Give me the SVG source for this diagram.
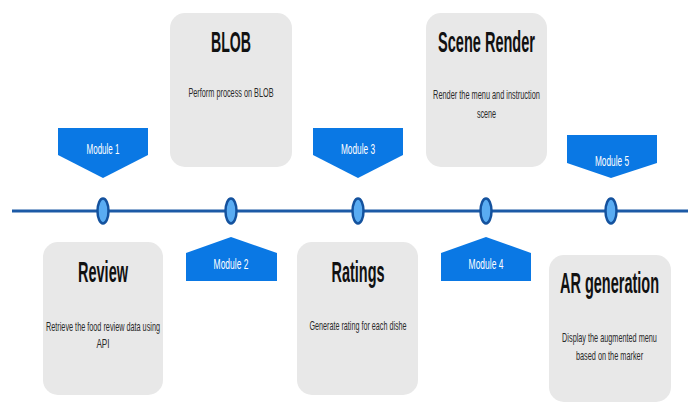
<svg xmlns="http://www.w3.org/2000/svg" width="688" height="403" viewBox="0 0 688 403">
  <style>
    .card { fill: #e8e8e8; }
    .title { font-family: "Liberation Sans", Arial, sans-serif; font-weight: bold; font-size: 29px; fill: #111; text-anchor: middle; }
    .desc { font-family: "Liberation Sans", Arial, sans-serif; font-size: 13px; fill: #2a2a2a; text-anchor: middle; }
    .tag { fill: #0a78e4; }
    .tag-label { font-family: "Liberation Sans", Arial, sans-serif; font-size: 14px; fill: #fff; text-anchor: middle; }
    .axis { stroke: #1c5aa6; stroke-width: 3; fill: none; }
    .dot { fill: #5aacf2; stroke: #14529e; stroke-width: 2.5; }
  </style>
  <rect width="688" height="403" fill="#fff"/>

  <!-- timeline axis and milestone dots -->
  <g id="connectors">
    <line class="axis" x1="12" y1="211" x2="688" y2="211"/>
    <ellipse class="dot" cx="103" cy="211" rx="5.5" ry="12.5"/>
    <ellipse class="dot" cx="231" cy="211" rx="5.5" ry="12.5"/>
    <ellipse class="dot" cx="358" cy="211" rx="5.5" ry="12.5"/>
    <ellipse class="dot" cx="486" cy="211" rx="5.5" ry="12.5"/>
    <ellipse class="dot" cx="611" cy="211" rx="5.5" ry="12.5"/>
  </g>

  <!-- module tags (labels use a narrow horizontal scale; textLength is the pre-scale width) -->
  <g id="module1">
    <polygon class="tag" points="58,128 148,128 148,155 103,178 58,155"/>
    <text class="tag-label" transform="translate(103 154) scale(0.6 1)" textLength="55" lengthAdjust="spacingAndGlyphs">Module 1</text>
  </g>
  <g id="module2">
    <polygon class="tag" points="186,253 231,237 277,253 277,281 186,281"/>
    <text class="tag-label" transform="translate(231 269) scale(0.6 1)" textLength="58" lengthAdjust="spacingAndGlyphs">Module 2</text>
  </g>
  <g id="module3">
    <polygon class="tag" points="313,128 403,128 403,155 358,178 313,155"/>
    <text class="tag-label" transform="translate(358 154) scale(0.6 1)" textLength="57" lengthAdjust="spacingAndGlyphs">Module 3</text>
  </g>
  <g id="module4">
    <polygon class="tag" points="441,253 486,237 531,253 531,281 441,281"/>
    <text class="tag-label" transform="translate(486 269) scale(0.6 1)" textLength="58" lengthAdjust="spacingAndGlyphs">Module 4</text>
  </g>
  <g id="module5">
    <polygon class="tag" points="567,135 657,135 657,163 611,178 567,163"/>
    <text class="tag-label" transform="translate(612 166) scale(0.6 1)" textLength="57" lengthAdjust="spacingAndGlyphs">Module 5</text>
  </g>

  <!-- stage cards (titles scaled 0.5, descriptions 0.6 horizontally) -->
  <g id="blob">
    <rect class="card" x="170" y="13" width="122" height="154" rx="15"/>
    <text class="title" transform="translate(231 52) scale(0.5 1)" textLength="80" lengthAdjust="spacingAndGlyphs">BLOB</text>
    <text class="desc" transform="translate(231 97) scale(0.6 1)" textLength="142" lengthAdjust="spacingAndGlyphs">Perform process on BLOB</text>
  </g>
  <g id="scene-render">
    <rect class="card" x="426" y="13" width="121" height="154" rx="15"/>
    <text class="title" transform="translate(486.5 52) scale(0.5 1)" textLength="194" lengthAdjust="spacingAndGlyphs">Scene Render</text>
    <text class="desc" transform="translate(486.5 99) scale(0.6 1)" textLength="178" lengthAdjust="spacingAndGlyphs">Render the menu and instruction</text>
    <text class="desc" transform="translate(486.5 118) scale(0.6 1)" textLength="32" lengthAdjust="spacingAndGlyphs">scene</text>
  </g>
  <g id="review">
    <rect class="card" x="43" y="242" width="120" height="153" rx="15"/>
    <text class="title" transform="translate(103 282) scale(0.5 1)" textLength="100" lengthAdjust="spacingAndGlyphs">Review</text>
    <text class="desc" transform="translate(103 331) scale(0.6 1)" textLength="190" lengthAdjust="spacingAndGlyphs">Retrieve the food review data using</text>
    <text class="desc" transform="translate(103 348) scale(0.6 1)" textLength="22" lengthAdjust="spacingAndGlyphs">API</text>
  </g>
  <g id="ratings">
    <rect class="card" x="297" y="242" width="121" height="153" rx="15"/>
    <text class="title" transform="translate(358 282) scale(0.5 1)" textLength="106" lengthAdjust="spacingAndGlyphs">Ratings</text>
    <text class="desc" transform="translate(358 330) scale(0.6 1)" textLength="162" lengthAdjust="spacingAndGlyphs">Generate rating for each dishe</text>
  </g>
  <g id="ar-generation">
    <rect class="card" x="549" y="255" width="122" height="147" rx="15"/>
    <text class="title" transform="translate(609.5 293) scale(0.5 1)" textLength="198" lengthAdjust="spacingAndGlyphs">AR generation</text>
    <text class="desc" transform="translate(609.5 342) scale(0.6 1)" textLength="158" lengthAdjust="spacingAndGlyphs">Display the augmented menu</text>
    <text class="desc" transform="translate(609.5 360) scale(0.6 1)" textLength="112" lengthAdjust="spacingAndGlyphs">based on the marker</text>
  </g>
</svg>
